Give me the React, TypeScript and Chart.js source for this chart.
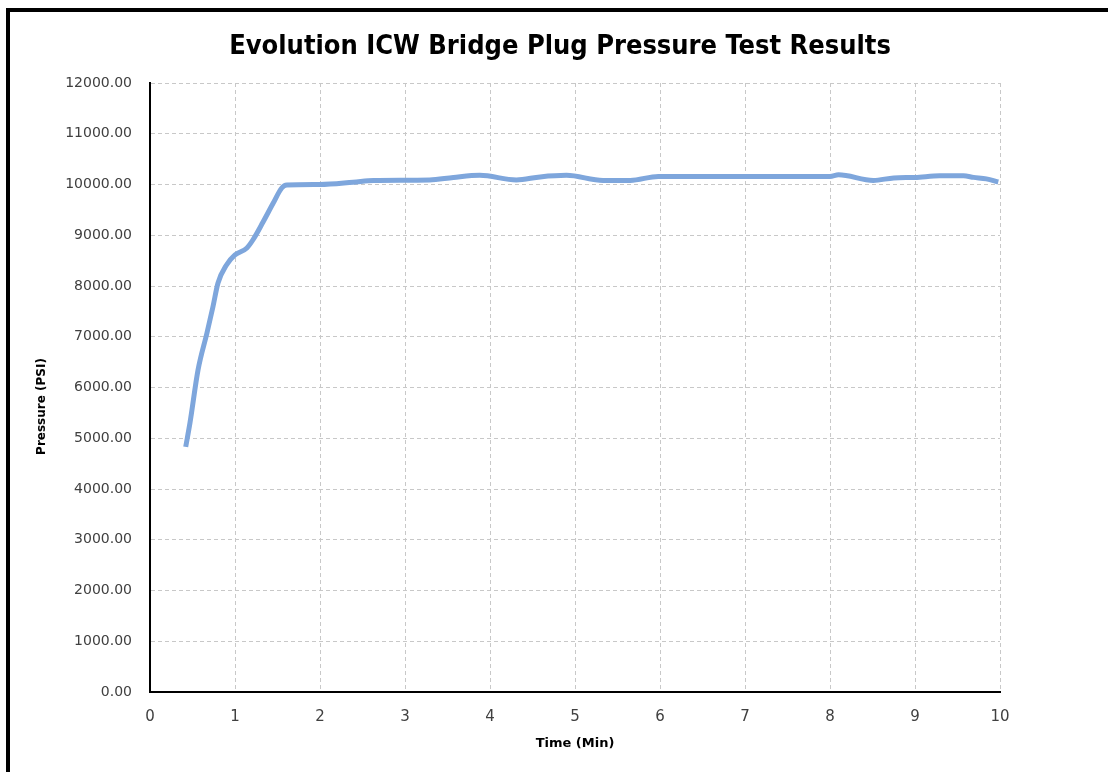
import React, { useEffect, useRef } from "react";
import { Chart, registerables } from "chart.js";

Chart.register(...registerables);

const chartTitle = "Evolution ICW Bridge Plug Pressure Test Results";
const xAxisTitle = "Time (Min)";
const yAxisTitle = "Pressure (PSI)";

const timeMin = [
  0.42, 0.47, 0.565, 0.67, 0.74, 0.8, 0.9, 1.0, 1.14, 1.21, 1.33, 1.45, 1.55, 1.61,
  2.0, 2.39, 2.63, 3.29, 3.57, 3.88, 4.31, 4.59, 4.9, 5.33, 5.65, 5.98, 7.4, 8.0,
  8.1, 8.51, 8.75, 9.0, 9.29, 9.57, 9.69, 9.84, 9.98,
];
const pressurePsi = [
  4830, 5300, 6345, 7074, 7586, 8059, 8414, 8611, 8749, 8906, 9261, 9635, 9931, 9990,
  10000, 10045, 10080, 10090, 10140, 10180, 10090, 10150, 10180, 10080, 10080, 10160,
  10160, 10160, 10190, 10080, 10130, 10140, 10170, 10170, 10140, 10110, 10050,
];

const xMin = 0;
const xMax = 10;
const xStep = 1;
const yMin = 0;
const yMax = 12000;
const yStep = 1000;

export default function App() {
  const canvasRef = useRef<HTMLCanvasElement | null>(null);

  useEffect(() => {
    const canvas = canvasRef.current;
    if (!canvas) return;
    const textPlugin = {
      id: "texts",
      afterDraw(chart: any) {
        const ctx = chart.ctx;
        const area = chart.chartArea;
        ctx.save();
        ctx.font = "bold 27px 'Liberation Sans Narrow', 'DejaVu Sans Condensed', sans-serif";
        ctx.fillStyle = "#000";
        ctx.textAlign = "center";
        ctx.textBaseline = "middle";
        ctx.fillText(chartTitle, 550, 35);
        ctx.restore();

        ctx.save();
        ctx.translate(32, (area.top + area.bottom) / 2 + 19);
        ctx.rotate(-Math.PI / 2);
        ctx.font = "bold 12px 'DejaVu Sans'";
        ctx.fillStyle = "#000";
        ctx.textAlign = "center";
        ctx.textBaseline = "middle";
        ctx.fillText(yAxisTitle, 0, 0);
        ctx.restore();
      },
    };
    const chart = new Chart(canvas, {
      type: "line",
      data: {
        datasets: [
          {
            data: timeMin.map((t, i) => ({ x: t, y: pressurePsi[i] })),
            borderColor: "#7EA6DC",
            borderWidth: 5,
            pointRadius: 0,
            cubicInterpolationMode: "monotone",
            fill: false,
          },
        ],
      },
      options: {
        responsive: false,
        animation: false,
        devicePixelRatio: 1,
        layout: { padding: { left: 0, right: 108, top: 71, bottom: 0 } },
        plugins: {
          legend: { display: false },
          tooltip: { enabled: false },
          title: { display: false },
        },
        scales: {
          x: {
            type: "linear",
            min: xMin,
            max: xMax,
            ticks: {
              stepSize: xStep,
              padding: 16,
              color: "#404040",
              font: { family: "'DejaVu Sans'", size: 15, lineHeight: 1.2 },
              maxRotation: 0,
            },
            grid: { color: "#c8c8c8", lineWidth: 1, drawTicks: false },
            border: { color: "#000", width: 2, dash: [4, 3] },
            title: {
              display: true,
              text: xAxisTitle,
              color: "#000",
              font: { family: "'DejaVu Sans'", size: 13, weight: "bold", lineHeight: 1.2 },
              padding: { top: 0, bottom: 21 },
            },
            afterFit(scale: any) {
              scale.height = 80;
            },
          },
          y: {
            type: "linear",
            min: yMin,
            max: yMax,
            ticks: {
              stepSize: yStep,
              padding: 18,
              color: "#404040",
              font: { family: "'DejaVu Sans'", size: 14, lineHeight: 1.2 },
              callback: (v: any) => Number(v).toFixed(2),
            },
            grid: { color: "#c8c8c8", lineWidth: 1, drawTicks: false },
            border: { color: "#000", width: 2, dash: [4, 3] },
            afterFit(scale: any) {
              scale.width = 140;
            },
          },
        },
      },
      plugins: [textPlugin],
    });
    return () => chart.destroy();
  }, []);

  return (
    <div
      style={{
        position: "fixed",
        left: 6,
        top: 8,
        width: 1102,
        height: 764,
        borderLeft: "4px solid #000",
        borderTop: "4px solid #000",
        background: "#fff",
      }}
    >
      <canvas ref={canvasRef} width={1098} height={760} style={{ display: "block" }} />
    </div>
  );
}
